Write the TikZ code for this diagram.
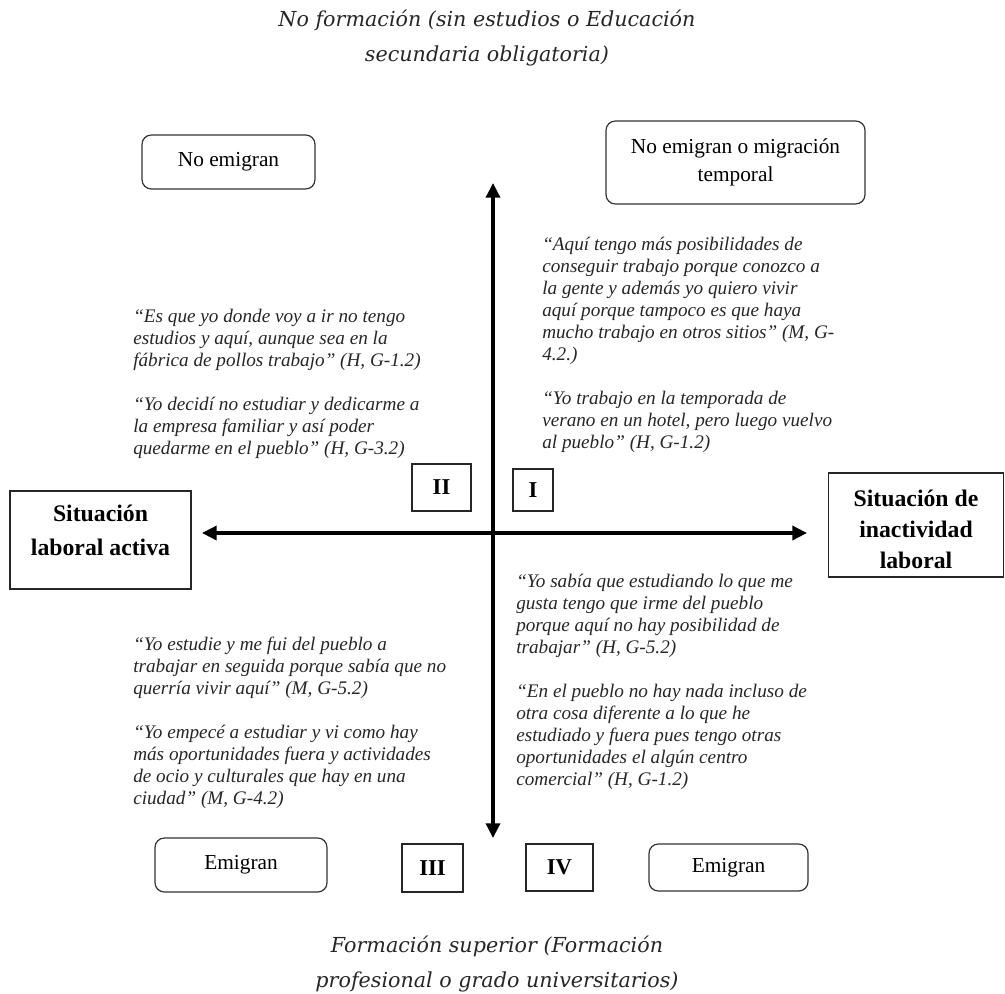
\documentclass[tikz,border=0pt]{standalone}
\usepackage{fontspec}
\setmainfont{Liberation Serif}
\newfontfamily\polofont{DejaVu Serif}
\usetikzlibrary{arrows.meta}

\tikzset{
  emibox/.style={draw=black!80, line width=0.9pt, rounded corners=7pt, inner sep=0pt,
    align=center, font=\fontsize{16}{21}\selectfont},
  quadbox/.style={draw=black!85, line width=0.9pt, inner sep=0pt,
    font=\fontsize{17}{21}\selectfont\bfseries},
  labbox/.style={draw=black!85, line width=0.9pt, inner sep=0pt, align=center},
  cita/.style={anchor=north west, inner sep=0pt, align=left, text=black!85,
    font=\fontsize{14.4}{16.5}\selectfont\itshape},
  eje/.style={line width=2.5pt,
    {Triangle[length=11pt,width=10.5pt]}-{Triangle[length=11pt,width=10.5pt]}},
  polo/.style={align=center, text=black!85, font=\polofont\itshape\fontsize{15.5}{26.5}\selectfont}
}

\begin{document}
\begin{tikzpicture}[x=0.75pt,y=-0.75pt]
\useasboundingbox (0,0) rectangle (1005,994);

% polos verticales
\node[polo] (noform) at (487,38) {No formación (sin estudios o Educación\\secundaria obligatoria)};
\node[polo] (formsup) at (497,964) {Formación superior (Formación\\profesional o grado universitarios)};

% ejes
\coordinate (centro) at (493,533);
\coordinate (arriba) at (493,183);
\coordinate (abajo) at (493,838);
\coordinate (izq) at (202,533);
\coordinate (der) at (807,533);
\draw[eje] (abajo) -- (arriba);
\draw[eje] (izq) -- (der);

% polos horizontales
\node[labbox, minimum width=135.75pt, minimum height=73.5pt,
  font=\fontsize{17.8}{25.5}\selectfont\bfseries] (activa) at (100.5,540)
  {Situación\\laboral activa\\[-10.5pt]\mbox{}};
\node[labbox, minimum width=131.25pt, minimum height=78pt,
  font=\fontsize{17.8}{23.25}\selectfont\bfseries] (inactiva) at (916,525)
  {\\[-4pt]Situación de\\inactividad\\laboral};

% migracion
\node[emibox, minimum width=129.75pt, minimum height=40.5pt] (noemig) at (228.5,162) {No emigran};
\node[emibox, minimum width=194.25pt, minimum height=62.25pt] (noemigtemp) at (735.5,162.5)
  {No emigran o migración\\temporal};
\node[emibox, minimum width=129pt, minimum height=40.5pt] (emigIII) at (241,865) {Emigran};
\node[emibox, minimum width=119.25pt, minimum height=35.25pt] (emigIV) at (728.5,867.5) {Emigran};

% cuadrantes
\node[quadbox, minimum width=30pt, minimum height=31.5pt] (cuadI) at (533,490) {I};
\node[quadbox, minimum width=44.25pt, minimum height=35.25pt] (cuadII) at (441.5,487.5) {II};
\node[quadbox, minimum width=45.75pt, minimum height=36pt] (cuadIII) at (432.5,868) {III};
\node[quadbox, minimum width=50.25pt, minimum height=35.25pt] (cuadIV) at (559.5,867.5) {IV};

% citas
\node[cita] (citaII) at (133,309) {“Es que yo donde voy a ir no tengo\\
estudios y aquí, aunque sea en la\\
fábrica de pollos trabajo” (H, G-1.2)\\[16.5pt]
“Yo decidí no estudiar y dedicarme a\\
la empresa familiar y así poder\\
quedarme en el pueblo” (H, G-3.2)};
\node[cita] (citaI) at (542,237) {“Aquí tengo más posibilidades de\\
conseguir trabajo porque conozco a\\
la gente y además yo quiero vivir\\
aquí porque tampoco es que haya\\
mucho trabajo en otros sitios” (M, G-\\
4.2.)\\[16.5pt]
“Yo trabajo en la temporada de\\
verano en un hotel, pero luego vuelvo\\
al pueblo” (H, G-1.2)};
\node[cita] (citaIII) at (133,637) {“Yo estudie y me fui del pueblo a\\
trabajar en seguida porque sabía que no\\
querría vivir aquí” (M, G-5.2)\\[16.5pt]
“Yo empecé a estudiar y vi como hay\\
más oportunidades fuera y actividades\\
de ocio y culturales que hay en una\\
ciudad” (M, G-4.2)};
\node[cita] (citaIV) at (516,574) {“Yo sabía que estudiando lo que me\\
gusta tengo que irme del pueblo\\
porque aquí no hay posibilidad de\\
trabajar” (H, G-5.2)\\[16.5pt]
“En el pueblo no hay nada incluso de\\
otra cosa diferente a lo que he\\
estudiado y fuera pues tengo otras\\
oportunidades el algún centro\\
comercial” (H, G-1.2)};
\end{tikzpicture}
\end{document}
